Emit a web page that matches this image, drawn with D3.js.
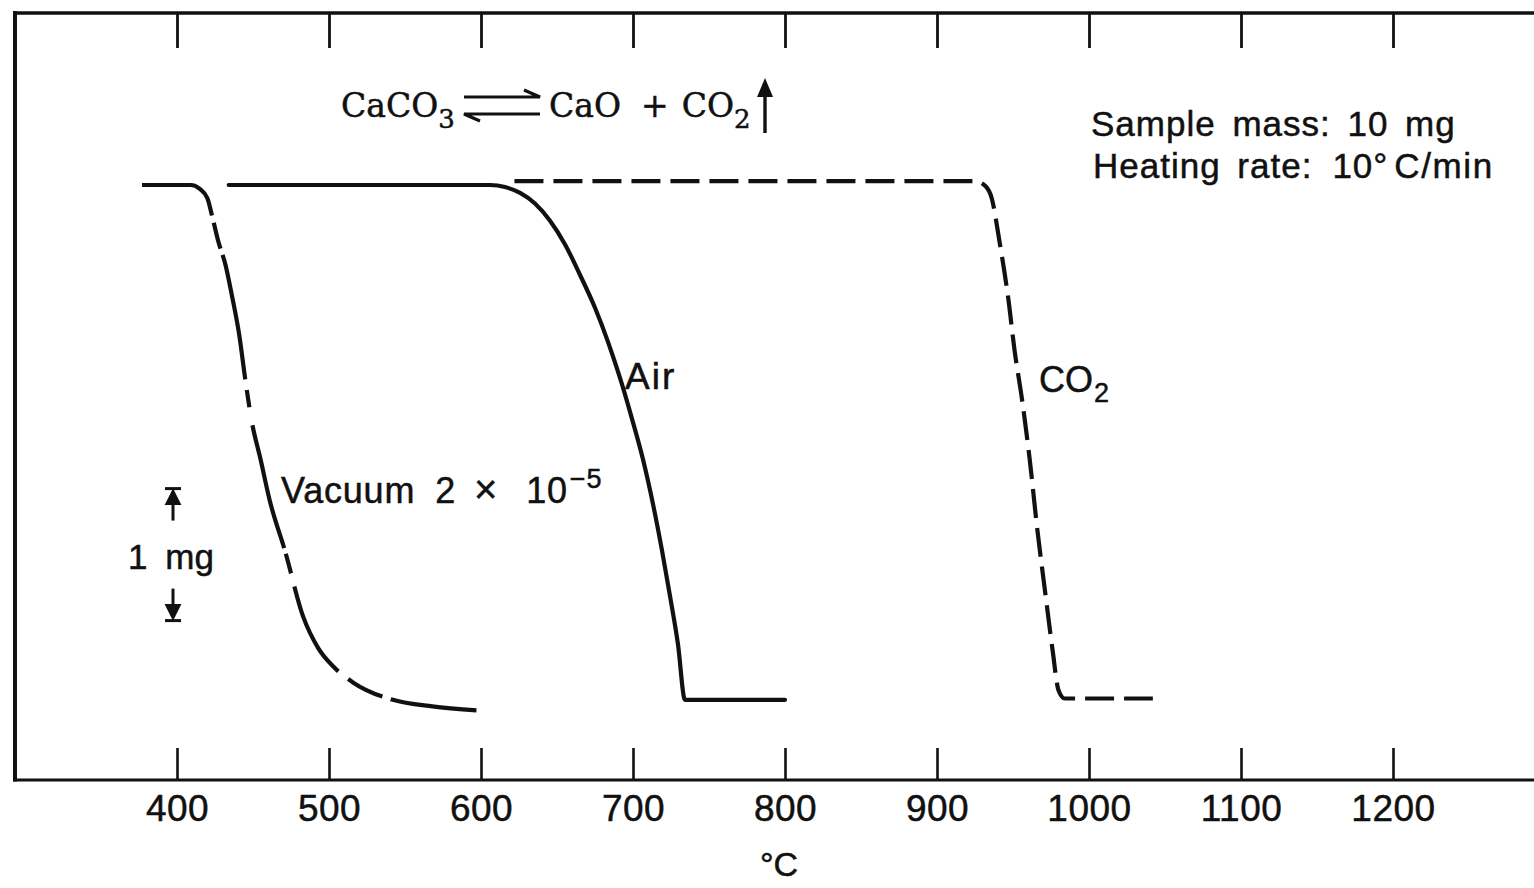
<!DOCTYPE html>
<html>
<head>
<meta charset="utf-8">
<script src="https://cdn.jsdelivr.net/npm/d3@7/dist/d3.min.js"></script>
<style>
  html, body { margin: 0; padding: 0; background: #fff; }
  svg { display: block; }
  text { fill: #111; stroke: #111; stroke-width: 0.5px; }
</style>
</head>
<body>
<svg id="chart" width="1534" height="888"></svg>
<script>
// Thermogravimetric curves of CaCO3 decomposition under three atmospheres
// temperature in °C, sample mass in mg

const tempTicks = [400, 500, 600, 700, 800, 900, 1000, 1100, 1200];

const vacuumTemp = [377, 409, 415, 420, 423, 427, 432, 436, 441, 445, 449, 455, 461, 471, 483, 493, 503, 516, 542, 568, 597];
const vacuumMass = [10.00, 10.00, 9.97, 9.90, 9.77, 9.58, 9.39, 9.17, 8.86, 8.52, 8.22, 7.92, 7.61, 7.23, 6.73, 6.49, 6.35, 6.23, 6.10, 6.05, 6.02];

const airTemp = [434, 605.9, 615.8, 625.7, 635.5, 645.4, 655.3, 665.1, 675.0, 683.6, 691.4, 699.3, 706.6, 713.2, 719.1, 724.3, 729.6, 734.2, 800];
const airMass = [10.00, 10.00, 9.985, 9.94, 9.86, 9.73, 9.55, 9.32, 9.07, 8.81, 8.54, 8.23, 7.92, 7.58, 7.23, 6.89, 6.52, 6.10, 6.10];

const co2Temp = [622, 925, 932, 936, 941, 947, 951, 956, 961, 966, 971, 976, 980, 984, 1042];
const co2Mass = [10.03, 10.03, 9.99, 9.90, 9.58, 9.13, 8.75, 8.37, 7.92, 7.39, 6.93, 6.48, 6.17, 6.11, 6.11];

const svg = d3.select("#chart");
const W = 1534, H = 888;

const x = d3.scaleLinear().domain([400, 1200]).range([177, 1393]);
const y = d3.scaleLinear().domain([10, 6]).range([185, 713]);

const frameLeft = 15, frameTop = 13, frameBottom = 780;

// frame: left, top and bottom rules (open on the right)
svg.append("line").attr("x1", frameLeft).attr("x2", frameLeft)
  .attr("y1", frameTop - 2).attr("y2", frameBottom + 1.5)
  .attr("stroke", "#111").attr("stroke-width", 4);
svg.append("line").attr("x1", frameLeft - 2).attr("x2", W)
  .attr("y1", frameTop).attr("y2", frameTop)
  .attr("stroke", "#111").attr("stroke-width", 3.5);
svg.append("line").attr("x1", frameLeft - 2).attr("x2", W)
  .attr("y1", frameBottom).attr("y2", frameBottom)
  .attr("stroke", "#111").attr("stroke-width", 3);

const sans = "Liberation Sans, Arial, sans-serif";

// bottom axis: inward ticks with labels below
const bottomAxis = d3.axisBottom(x).tickValues(tempTicks).tickSize(-32).tickPadding(15)
  .tickFormat(d3.format("d"));
const gb = svg.append("g").attr("transform", `translate(0,${frameBottom})`).call(bottomAxis);
gb.select(".domain").remove();
gb.selectAll(".tick line").attr("stroke", "#111").attr("stroke-width", 2.6);
gb.selectAll(".tick text").attr("font-family", sans)
  .attr("font-size", 37).attr("fill", "#111").attr("letter-spacing", 0.5);

// top axis: inward ticks, no labels
const topAxis = d3.axisTop(x).tickValues(tempTicks).tickSize(-35).tickFormat("");
const gt = svg.append("g").attr("transform", `translate(0,${frameTop})`).call(topAxis);
gt.select(".domain").remove();
gt.selectAll(".tick line").attr("stroke", "#111").attr("stroke-width", 2.8);

// axis unit
svg.append("text").attr("x", x(800) - 6).attr("y", 876)
  .attr("text-anchor", "middle")
  .attr("font-family", sans).attr("font-size", 34)
  .text("°C");

const line = d3.line().x(d => x(d[0])).y(d => y(d[1])).curve(d3.curveMonotoneX);

function draw(temps, masses) {
  return svg.append("path")
    .datum(d3.zip(temps, masses))
    .attr("d", line)
    .attr("fill", "none")
    .attr("stroke", "#111")
    .attr("stroke-width", 4.2)
    .attr("stroke-linejoin", "round");
}

// vacuum trace: broken pen line, gaps given as temperature spans
const vacPath = draw(vacuumTemp, vacuumMass).attr("stroke-linecap", "butt");
const vacGaps = [[423.0, 424.2], [428.6, 430.0], [444.9, 445.9], [447.6, 449.6],
                 [470.5, 471.6], [475.0, 477.2], [506, 512.5], [535, 540.5]];
(function () {
  const node = vacPath.node();
  const total = node.getTotalLength();
  function lenAtX(px) {
    let lo = 0, hi = total;
    for (let i = 0; i < 40; i++) {
      const mid = (lo + hi) / 2;
      if (node.getPointAtLength(mid).x < px) lo = mid; else hi = mid;
    }
    return (lo + hi) / 2;
  }
  const dashes = [];
  let pos = 0;
  vacGaps.forEach(([a, b]) => {
    const la = lenAtX(x(a)), lb = lenAtX(x(b));
    dashes.push(la - pos, lb - la);
    pos = lb;
  });
  dashes.push(total - pos + 10, 0);
  vacPath.attr("stroke-dasharray", dashes.map(v => v.toFixed(2)).join(" "));
})();

// air trace: solid
draw(airTemp, airMass).attr("stroke-linecap", "round");

// CO2 trace: dashed
draw(co2Temp, co2Mass).attr("stroke-dasharray", "29 10").attr("stroke-linecap", "butt");

// curve labels
svg.append("text").attr("x", 625).attr("y", 389)
  .attr("font-family", sans).attr("font-size", 37).attr("letter-spacing", 2).text("Air");

const co2Label = svg.append("text").attr("x", 1039).attr("y", 392)
  .attr("font-family", sans).attr("font-size", 36);
co2Label.append("tspan").text("CO");
co2Label.append("tspan").attr("font-size", 27).attr("dy", 10).attr("dx", 1).text("2");

const vacLabel = svg.append("text").attr("x", 281).attr("y", 503)
  .attr("font-family", sans).attr("font-size", 36).attr("letter-spacing", 0.8);
vacLabel.append("tspan").text("Vacuum");
vacLabel.append("tspan").attr("dx", 20).text("2");
vacLabel.append("tspan").attr("dx", 18).attr("font-size", 40).text("×");
vacLabel.append("tspan").attr("dx", 28).text("10");
vacLabel.append("tspan").attr("font-size", 27).attr("dy", -15).attr("dx", 2).text("−5");

// conditions note
const note = svg.append("text").attr("font-family", sans).attr("font-size", 35)
  .attr("letter-spacing", 1).attr("word-spacing", 6);
note.append("tspan").attr("x", 1091).attr("y", 136).text("Sample mass: 10 mg");
const l2 = note.append("tspan").attr("x", 1093).attr("y", 178);
l2.append("tspan").text("Heating rate:");
l2.append("tspan").attr("dx", 20).text("10°");
l2.append("tspan").attr("dx", 6).attr("letter-spacing", 1.6).text("C/min");

// reaction equation
const serif = "DejaVu Serif, Liberation Serif, serif";
const eq1 = svg.append("text").attr("x", 341).attr("y", 117)
  .attr("font-family", serif).attr("font-size", 33);
eq1.append("tspan").text("CaCO");
eq1.append("tspan").attr("font-size", 26).attr("dy", 11).text("3");

const eq2 = svg.append("text").attr("x", 549).attr("y", 117)
  .attr("font-family", serif).attr("font-size", 33);
eq2.append("tspan").text("CaO");
eq2.append("tspan").attr("dx", 20).text("+");
eq2.append("tspan").attr("dx", 13).text("CO");
eq2.append("tspan").attr("font-size", 26).attr("dy", 11).text("2");

// equilibrium harpoons
const harp = svg.append("g").attr("stroke", "#111").attr("stroke-width", 3.2).attr("fill", "none");
harp.append("path").attr("d", "M464,97 L540,97 L524,90");
harp.append("path").attr("d", "M540,114 L464,114 L480,121");

// gas evolution arrow
svg.append("line").attr("x1", 765).attr("x2", 765).attr("y1", 133).attr("y2", 84)
  .attr("stroke", "#111").attr("stroke-width", 3.4);
svg.append("path").attr("d", "M765,78 L757,97 L773,97 Z").attr("fill", "#111");

// 1 mg scale bar
const barTop = y(7.7), barBot = y(6.7), barX = 173;
const sb = svg.append("g").attr("stroke", "#111").attr("stroke-width", 3).attr("fill", "none");
sb.append("line").attr("x1", barX - 8).attr("x2", barX + 8).attr("y1", barTop).attr("y2", barTop);
sb.append("line").attr("x1", barX).attr("x2", barX).attr("y1", barTop + 6).attr("y2", barTop + 32);
sb.append("path").attr("d", `M${barX - 6},${barTop + 15} L${barX},${barTop + 3} L${barX + 6},${barTop + 15} Z`)
  .attr("fill", "#111");
sb.append("line").attr("x1", barX - 8).attr("x2", barX + 8).attr("y1", barBot).attr("y2", barBot);
sb.append("line").attr("x1", barX).attr("x2", barX).attr("y1", barBot - 6).attr("y2", barBot - 32);
sb.append("path").attr("d", `M${barX - 6},${barBot - 15} L${barX},${barBot - 3} L${barX + 6},${barBot - 15} Z`)
  .attr("fill", "#111");

svg.append("text").attr("x", 171).attr("y", 569).attr("text-anchor", "middle")
  .attr("font-family", sans).attr("font-size", 35).attr("word-spacing", 8).text("1 mg");
</script>
</body>
</html>
